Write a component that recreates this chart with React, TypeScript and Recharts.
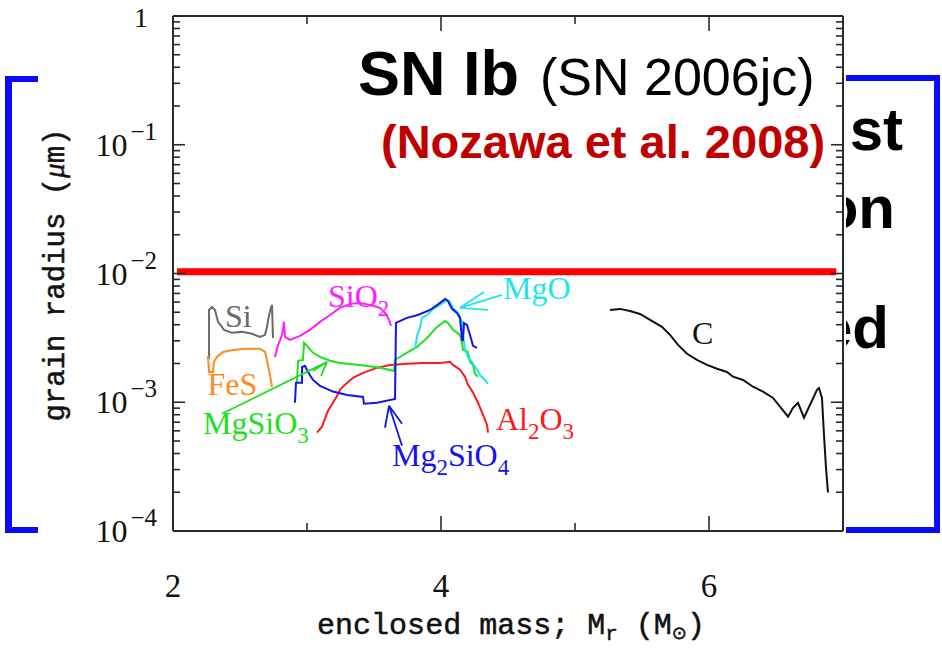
import React from 'react';
import { LineChart, Line, XAxis, YAxis, ReferenceLine, ReferenceDot } from 'recharts';

// grain radius (um) vs enclosed mass (Msun)
const siData: [number, number][] = [
  [2.269, 0.00218], [2.269, 0.00521], [2.291, 0.0055], [2.313, 0.00521], [2.336, 0.00421],
  [2.381, 0.00365], [2.44, 0.00346], [2.515, 0.00352], [2.59, 0.0034], [2.649, 0.00322],
  [2.687, 0.00334], [2.701, 0.00385], [2.716, 0.00469], [2.731, 0.00541], [2.739, 0.0057],
  [2.746, 0.00316],
];
const fesData: [number, number][] = [
  [2.261, 0.00229], [2.269, 0.00172], [2.299, 0.00172], [2.306, 0.00206], [2.328, 0.00225],
  [2.373, 0.00246], [2.448, 0.00255], [2.537, 0.0026], [2.649, 0.0026], [2.687, 0.00246],
  [2.701, 0.00213], [2.716, 0.00179], [2.739, 0.00132],
];
const sio2Data: [number, number][] = [
  [2.761, 0.00225], [2.784, 0.00279], [2.806, 0.00316], [2.821, 0.00365], [2.828, 0.00421],
  [2.836, 0.00322], [2.873, 0.00305], [2.948, 0.00328], [3.022, 0.00365], [3.097, 0.00421],
  [3.172, 0.00476], [3.246, 0.00541], [3.321, 0.00581], [3.396, 0.00591], [3.47, 0.0057],
  [3.545, 0.00541], [3.59, 0.00485], [3.612, 0.00436], [3.627, 0.00392],
];
const mgsio3Data: [number, number][] = [
  [2.925, 0.00142], [2.933, 0.0021], [2.97, 0.00213], [2.978, 0.00289], [3.0, 0.00274],
  [3.045, 0.00242], [3.097, 0.00225], [3.172, 0.0021], [3.246, 0.00202], [3.396, 0.00195],
  [3.545, 0.00185], [3.649, 0.00175], [3.657, 0.00213], [3.731, 0.00238], [3.821, 0.00269],
  [3.896, 0.00316], [3.97, 0.00385], [4.03, 0.00428], [4.052, 0.00413], [4.09, 0.00365],
  [4.142, 0.00334], [4.157, 0.00289], [4.164, 0.00255], [4.201, 0.00246], [4.216, 0.00206],
  [4.239, 0.00195], [4.254, 0.00166], [4.276, 0.00158],
];
const mg2sio4Data: [number, number][] = [
  [2.91, 0.000991], [2.918, 0.00142], [2.963, 0.00142], [2.963, 0.00188], [2.985, 0.00192],
  [3.007, 0.00172], [3.045, 0.00149], [3.097, 0.00134], [3.194, 0.00121], [3.299, 0.00114],
  [3.418, 0.0011], [3.425, 0.000973], [3.522, 0.000991], [3.657, 0.00106], [3.664, 0.00413],
  [3.746, 0.00452], [3.828, 0.00476], [3.918, 0.00521], [3.993, 0.00591], [4.03, 0.00634],
  [4.052, 0.00612], [4.082, 0.00531], [4.119, 0.00494], [4.142, 0.00452], [4.157, 0.00305],
  [4.164, 0.00305], [4.172, 0.00413], [4.194, 0.00399], [4.216, 0.00334], [4.239, 0.00274],
  [4.269, 0.00264],
];
const mgoData: [number, number][] = [
  [3.806, 0.0026], [3.821, 0.00328], [3.843, 0.00378], [3.858, 0.00452], [3.896, 0.00476],
  [3.933, 0.00521], [3.993, 0.0057], [4.045, 0.00624], [4.067, 0.00601], [4.09, 0.00541],
  [4.127, 0.00494], [4.157, 0.00421], [4.164, 0.00334], [4.179, 0.00264], [4.201, 0.00225],
  [4.231, 0.00206], [4.269, 0.00179], [4.291, 0.00163], [4.328, 0.00149], [4.351, 0.00139],
];
const al2o3Data: [number, number][] = [
  [3.075, 0.000581], [3.112, 0.000646], [3.134, 0.000745], [3.157, 0.000859], [3.194, 0.000991],
  [3.224, 0.00112], [3.246, 0.00125], [3.284, 0.00137], [3.343, 0.00155], [3.418, 0.00169],
  [3.522, 0.00185], [3.619, 0.00195], [3.746, 0.00199], [3.866, 0.00202], [3.993, 0.00202],
  [4.067, 0.00206], [4.09, 0.00195], [4.142, 0.00179], [4.179, 0.00158], [4.201, 0.00137],
  [4.239, 0.00119], [4.276, 0.000991], [4.313, 0.0008], [4.343, 0.00067], [4.351, 0.000581],
];
const cData: [number, number][] = [
  [5.261, 0.00521], [5.336, 0.00531], [5.41, 0.00512], [5.485, 0.00485], [5.56, 0.00436],
  [5.649, 0.00385], [5.709, 0.00334], [5.769, 0.00279], [5.836, 0.00238], [5.91, 0.00213],
  [5.985, 0.00195], [6.06, 0.00182], [6.134, 0.00172], [6.179, 0.00158], [6.254, 0.00149],
  [6.328, 0.00132], [6.403, 0.00121], [6.478, 0.00108], [6.53, 0.000923], [6.59, 0.000773],
  [6.627, 0.000906], [6.664, 0.000991], [6.709, 0.000759], [6.754, 0.000957], [6.806, 0.00125],
  [6.821, 0.00129], [6.843, 0.00108], [6.858, 0.00056], [6.873, 0.00031], [6.888, 0.000199],
];
// the thick red line at 0.01 um
const redLevel: [number, number][] = [[2.03, 0.0103], [6.95, 0.0103]];

const xTicks = [2, 3, 4, 5, 6];
const xLabelTicks = [2, 4, 6];
const yTicks = [
  0.0001, 0.0002, 0.0003, 0.0004, 0.0005, 0.0006, 0.0007, 0.0008, 0.0009,
  0.001, 0.002, 0.003, 0.004, 0.005, 0.006, 0.007, 0.008, 0.009,
  0.01, 0.02, 0.03, 0.04, 0.05, 0.06, 0.07, 0.08, 0.09,
  0.1, 0.2, 0.3, 0.4, 0.5, 0.6, 0.7, 0.8, 0.9, 1,
];

// annotation text, anchored at data coordinates (left end of baseline)
type Part = { t: string; sub?: boolean };
const annotations: { x: number; y: number; color: string; parts: Part[] }[] = [
  { x: 2.388, y: 0.00385, color: '#6a6a6a', parts: [{ t: 'Si' }] },
  { x: 2.258, y: 0.00114, color: '#ff8a1e', parts: [{ t: 'FeS' }] },
  { x: 3.157, y: 0.0055, color: '#ff1eff', parts: [{ t: 'SiO' }, { t: '2', sub: true }] },
  { x: 4.463, y: 0.00634, color: '#22e6e6', parts: [{ t: 'MgO' }] },
  { x: 2.224, y: 0.00057, color: '#1ee01e', parts: [{ t: 'MgSiO' }, { t: '3', sub: true }] },
  { x: 3.634, y: 0.000322, color: '#1414e6', parts: [{ t: 'Mg' }, { t: '2', sub: true }, { t: 'SiO' }, { t: '4', sub: true }] },
  { x: 4.41, y: 0.000612, color: '#ff1a1a', parts: [{ t: 'Al' }, { t: '2', sub: true }, { t: 'O' }, { t: '3', sub: true }] },
  { x: 5.873, y: 0.00284, color: '#111', parts: [{ t: 'C' }] },
];

// arrows: [tail, tip] plus two head strokes from the tip
const arrows: { color: string; tail: [number, number]; tip: [number, number]; h1: [number, number]; h2: [number, number] }[] = [
  { color: '#22e6e6', tail: [4.455, 0.00681], tip: [4.142, 0.00541], h1: [4.321, 0.00719], h2: [4.351, 0.00521] },
  { color: '#1ee01e', tail: [2.366, 0.000815], tip: [3.149, 0.00206], h1: [3.045, 0.00175], h2: [3.104, 0.0016] },
  { color: '#1414e6', tail: [3.709, 0.00046], tip: [3.612, 0.000939], h1: [3.582, 0.000634], h2: [3.709, 0.000681] },
];

const pts = (d: [number, number][]) => d.map(([x, y]) => ({ x, y }));

const PLOT = { left: 173, top: 16, right: 843, bottom: 531 };
const AXIS = '#2a2a2a';
const SERIF = '"Liberation Serif", "Times New Roman", serif';
const MONO = '"Liberation Mono", "Courier New", monospace';
const SANS = '"Liberation Sans", Arial, sans-serif';

const isDecade = (v: number) => Math.abs(Math.log10(v) - Math.round(Math.log10(v))) < 1e-6;

const BottomTick = (p: any) => {
  const v = p.payload.value;
  const major = xLabelTicks.includes(v);
  return (
    <g>
      <line x1={p.x} x2={p.x} y1={PLOT.bottom} y2={PLOT.bottom - (major ? 15 : 8)} stroke={AXIS} strokeWidth={1.6} />
      {major && (
        <text x={p.x} y={PLOT.bottom + 66} textAnchor="middle" fontFamily={SERIF} fontSize={33} fill="#111">
          {v}
        </text>
      )}
    </g>
  );
};

const TopTick = (p: any) => {
  const major = xLabelTicks.includes(p.payload.value);
  return <line x1={p.x} x2={p.x} y1={PLOT.top} y2={PLOT.top + (major ? 15 : 8)} stroke={AXIS} strokeWidth={1.6} />;
};

const LeftTick = (p: any) => {
  const v = p.payload.value;
  const major = isDecade(v);
  const exp = Math.round(Math.log10(v));
  return (
    <g>
      <line x1={PLOT.left} x2={PLOT.left + (major ? 12 : 7)} y1={p.y} y2={p.y} stroke={AXIS} strokeWidth={1.6} />
      {major && exp === 0 && (
        <text x={PLOT.left - 25} y={p.y + 11} textAnchor="end" fontFamily={SERIF} fontSize={28} fill="#111">1</text>
      )}
      {major && exp < 0 && (
        <text x={PLOT.left - 16} y={p.y + 11} textAnchor="end" fontFamily={SERIF} fontSize={32} fill="#111">
          10
          <tspan dx={3} dy={-16} fontSize={25}>{`\u2212${-exp}`}</tspan>
        </text>
      )}
    </g>
  );
};

const RightTick = (p: any) => {
  const major = isDecade(p.payload.value);
  return <line x1={PLOT.right} x2={PLOT.right - (major ? 12 : 7)} y1={p.y} y2={p.y} stroke={AXIS} strokeWidth={1.6} />;
};

const AnnoText = ({ cx, cy, color, parts }: any) => (
  <text x={cx} y={cy} fontFamily={SERIF} fontSize={32} fill={color}>
    {parts.map((pt: Part, i: number) => {
      const prevSub = i > 0 && parts[i - 1].sub;
      const dy = pt.sub ? (prevSub ? 0 : 9) : prevSub ? -9 : 0;
      return (
        <tspan key={i} dy={dy} fontSize={pt.sub ? 23 : 32}>
          {pt.t}
        </tspan>
      );
    })}
  </text>
);

const XLabel = () => (
  <text x={511} y={634} textAnchor="middle" fontFamily={MONO} fontSize={30} fill="#111" stroke="#111" strokeWidth={0.5}>
    enclosed mass; M
    <tspan dy={6} fontSize={21}>r</tspan>
    <tspan dy={-6}> (M</tspan>
    <tspan dy={5} fontSize={18} fontFamily='"DejaVu Sans", sans-serif'>{'\u2299'}</tspan>
    <tspan dy={-5}>)</tspan>
  </text>
);

const YLabel = () => (
  <text
    x={64}
    y={275}
    transform="rotate(-90 64 275)"
    textAnchor="middle"
    fontFamily={MONO}
    fontSize={29}
    fill="#111"
    stroke="#111"
    strokeWidth={0.5}
  >
    grain radius (<tspan fontFamily={SERIF} fontStyle="italic">{'\u03bc'}</tspan>m)
  </text>
);

const BLUE = '#0a0aff';

export default function App() {
  return (
    <div style={{ position: 'absolute', left: 0, top: 0, width: 942, height: 648, background: '#fff', overflow: 'hidden' }}>
      {/* slide underneath: brackets and text partly hidden by the figure */}
      <svg width={942} height={648} style={{ position: 'absolute', left: 0, top: 0 }}>
        <rect x={5} y={76} width={7} height={457} fill={BLUE} />
        <rect x={5} y={76} width={40} height={6} fill={BLUE} />
        <rect x={5} y={527} width={40} height={6} fill={BLUE} />
        <rect x={934} y={75} width={6} height={458} fill={BLUE} />
        <rect x={840} y={75} width={100} height={6} fill={BLUE} />
        <rect x={840} y={527} width={100} height={6} fill={BLUE} />
        <g fontFamily={SANS} fontWeight="bold" fontSize={60} fill="#000">
          <text x={903} y={150} textAnchor="end">st</text>
          <text x={895} y={228} textAnchor="end">on</text>
          <text x={889} y={348} textAnchor="end">ed</text>
        </g>
      </svg>
      <div style={{ position: 'absolute', left: 38, top: 0, width: 808, height: 648, background: '#fff' }} />
      <div style={{ position: 'absolute', left: 0, top: 0 }}>
        <LineChart width={942} height={648} margin={{ top: 10, right: 93, bottom: 97, left: 153 }}>
          <XAxis
            type="number"
            dataKey="x"
            domain={[2, 7]}
            ticks={xTicks}
            allowDataOverflow
            height={20}
            tickSize={0}
            tickMargin={0}
            tick={BottomTick}
            axisLine={{ stroke: AXIS, strokeWidth: 2 }}
          />
          <XAxis
            xAxisId="top"
            orientation="top"
            type="number"
            dataKey="x"
            domain={[2, 7]}
            ticks={xTicks}
            allowDataOverflow
            height={6}
            tickSize={0}
            tickMargin={0}
            tick={TopTick}
            axisLine={{ stroke: AXIS, strokeWidth: 2 }}
          />
          <YAxis
            type="number"
            scale="log"
            domain={[0.0001, 1]}
            ticks={yTicks}
            allowDataOverflow
            width={20}
            tickSize={0}
            tickMargin={0}
            tick={LeftTick}
            interval={0}
            axisLine={{ stroke: AXIS, strokeWidth: 2 }}
          />
          <YAxis
            yAxisId="right"
            orientation="right"
            type="number"
            scale="log"
            domain={[0.0001, 1]}
            ticks={yTicks}
            allowDataOverflow
            width={6}
            tickSize={0}
            tickMargin={0}
            tick={RightTick}
            interval={0}
            axisLine={{ stroke: AXIS, strokeWidth: 2 }}
          />
          <Line data={pts(redLevel)} dataKey="y" stroke="#ff0000" strokeWidth={7} dot={false} isAnimationActive={false} />
          <Line data={pts(siData)} dataKey="y" stroke="#6a6a6a" strokeWidth={2} dot={false} isAnimationActive={false} />
          <Line data={pts(fesData)} dataKey="y" stroke="#ff8a1e" strokeWidth={2} dot={false} isAnimationActive={false} />
          <Line data={pts(sio2Data)} dataKey="y" stroke="#ff1eff" strokeWidth={2} dot={false} isAnimationActive={false} />
          <Line data={pts(al2o3Data)} dataKey="y" stroke="#ff1a1a" strokeWidth={2} dot={false} isAnimationActive={false} />
          <Line data={pts(mgsio3Data)} dataKey="y" stroke="#1ee01e" strokeWidth={2} dot={false} isAnimationActive={false} />
          <Line data={pts(mgoData)} dataKey="y" stroke="#22e6e6" strokeWidth={2} dot={false} isAnimationActive={false} />
          <Line data={pts(mg2sio4Data)} dataKey="y" stroke="#1414e6" strokeWidth={2} dot={false} isAnimationActive={false} />
          <Line data={pts(cData)} dataKey="y" stroke="#111" strokeWidth={2} dot={false} isAnimationActive={false} />
          {arrows.map((a, i) =>
            [
              [a.tail, a.tip],
              [a.tip, a.h1],
              [a.tip, a.h2],
            ].map((seg, j) => (
              <ReferenceLine
                key={`a${i}-${j}`}
                segment={[
                  { x: seg[0][0], y: seg[0][1] },
                  { x: seg[1][0], y: seg[1][1] },
                ]}
                stroke={a.color}
                strokeWidth={1.8}
                ifOverflow="visible"
              />
            ))
          )}
          {annotations.map((a, i) => (
            <ReferenceDot
              key={`n${i}`}
              x={a.x}
              y={a.y}
              r={1}
              ifOverflow="visible"
              shape={(p: any) => <AnnoText cx={p.cx} cy={p.cy} color={a.color} parts={a.parts} />}
            />
          ))}
          <XLabel />
          <YLabel />
        </LineChart>
      </div>
      {/* slide title written over the figure */}
      <svg width={942} height={648} style={{ position: 'absolute', left: 0, top: 0, pointerEvents: 'none' }}>
        <text x={358} y={95} fontFamily={SANS} fontWeight="bold" fontSize={63} fill="#000">SN Ib</text>
        <text x={540} y={95} fontFamily={SANS} fontSize={52} fill="#000">(SN 2006jc)</text>
        <text x={381} y={158} fontFamily={SANS} fontWeight="bold" fontSize={47} fill="#c00000">(Nozawa et al. 2008)</text>
      </svg>
    </div>
  );
}
